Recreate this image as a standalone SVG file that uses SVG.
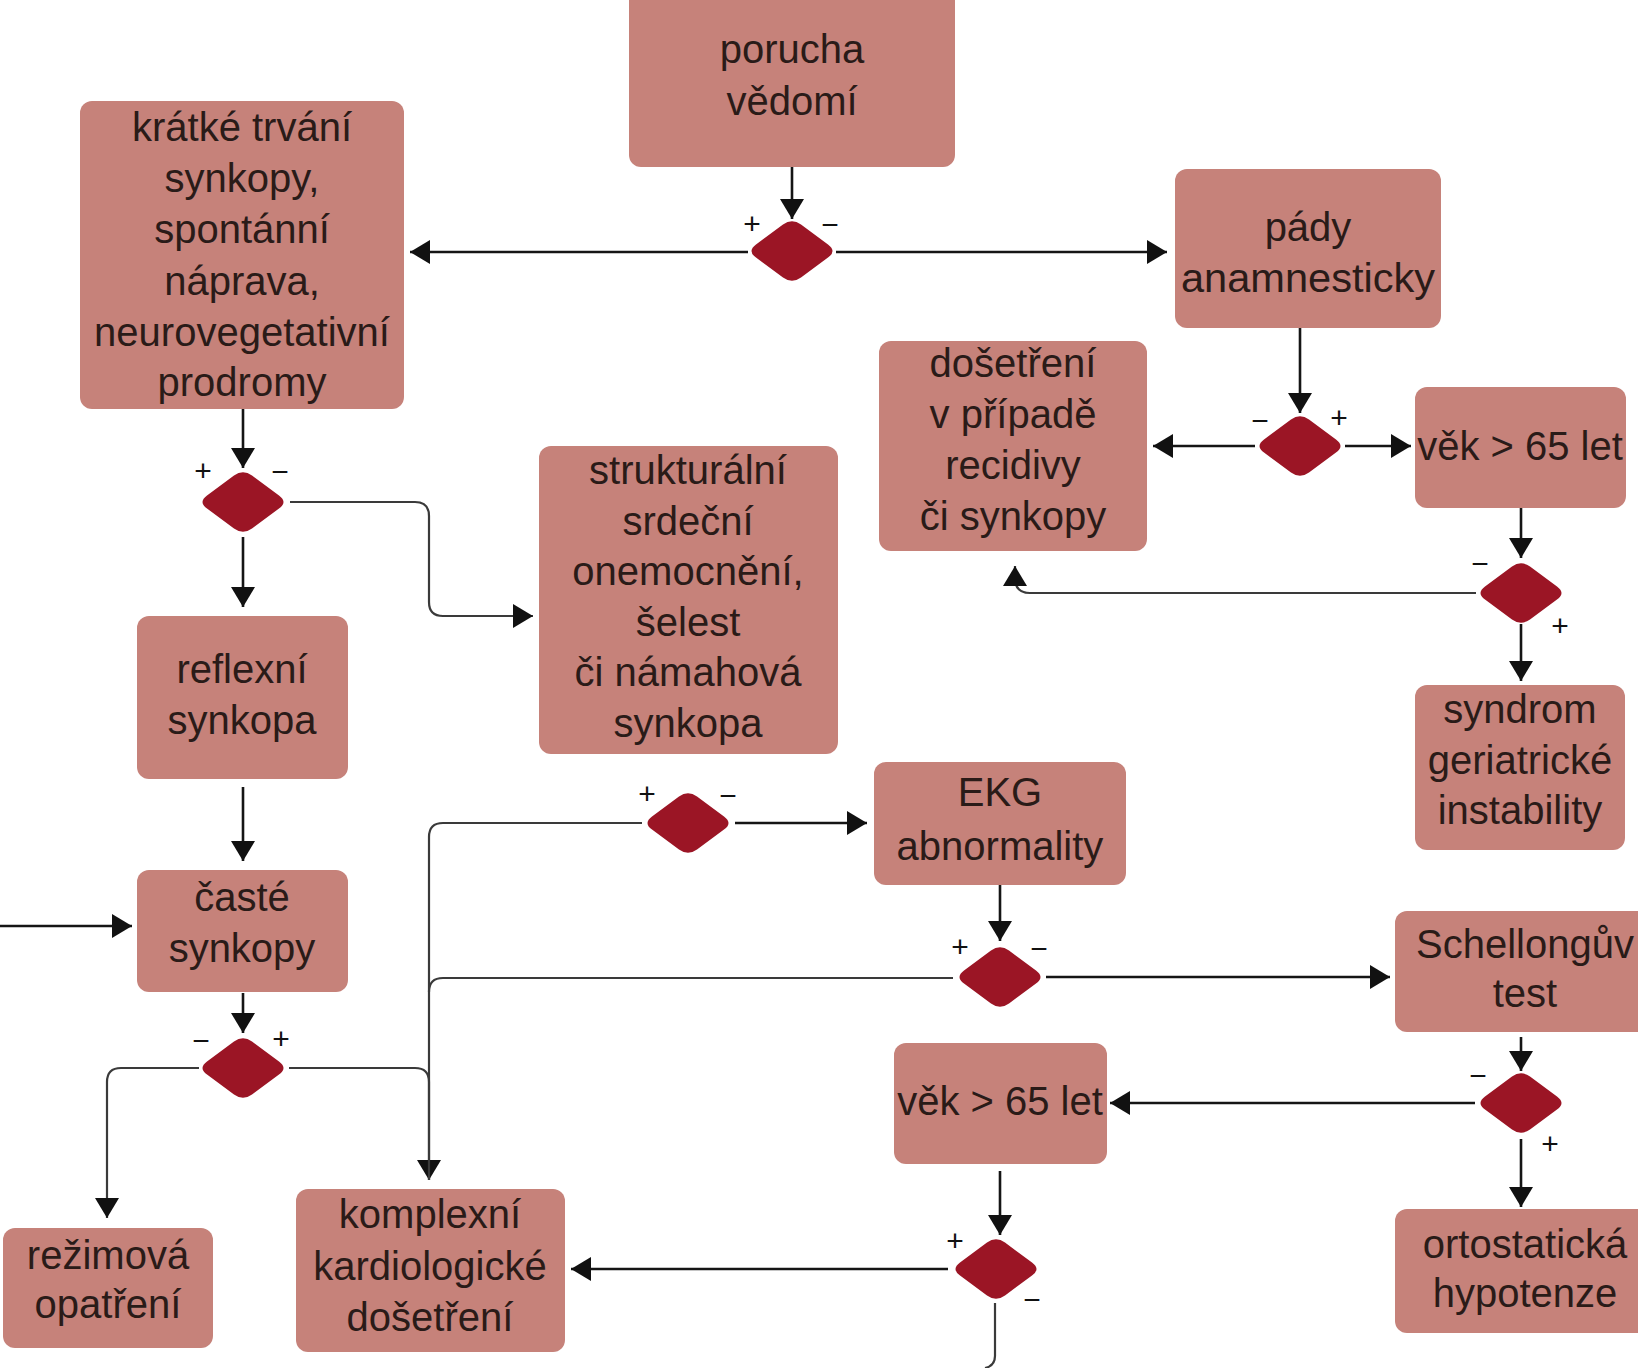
<svg xmlns="http://www.w3.org/2000/svg" width="1638" height="1368" viewBox="0 0 1638 1368">
<defs>
<style>
.box{fill:#c6827a;}
.t{font-family:"Liberation Sans",Arial,sans-serif;font-size:40px;fill:#2a1b18;text-anchor:middle;}
.sg{font-family:"Liberation Sans",Arial,sans-serif;font-size:30px;fill:#111;text-anchor:middle;}
.dia{fill:#9b1525;}
.ln{fill:none;stroke:#151515;stroke-width:2.6;}
.el{fill:none;stroke:#3a3a3a;stroke-width:2.2;}
</style>
<marker id="ah" markerUnits="userSpaceOnUse" markerWidth="20" markerHeight="24" refX="20" refY="12" orient="auto">
<path d="M0,0 L20,12 L0,24 Z" fill="#111"/>
</marker>
<path id="dm" d="M -9,-26.4 Q 0,-33 9,-26.4 L 36,-6.6 Q 45,0 36,6.6 L 9,26.4 Q 0,33 -9,26.4 L -36,6.6 Q -45,0 -36,-6.6 Z"/>
</defs>
<rect width="1638" height="1368" fill="#ffffff"/>

<g id="connectors">
<path class="ln" d="M 792 167 V 219" marker-end="url(#ah)"/>
<path class="ln" d="M 748 252 H 410" marker-end="url(#ah)"/>
<path class="ln" d="M 836 252 H 1167" marker-end="url(#ah)"/>
<path class="ln" d="M 243 409 V 468" marker-end="url(#ah)"/>
<path class="ln" d="M 243 537 V 607" marker-end="url(#ah)"/>
<path class="el" d="M 290 502 H 415 Q 429 502 429 516 V 602 Q 429 616 443 616 H 533" marker-end="url(#ah)"/>
<path class="ln" d="M 1300 328 V 413" marker-end="url(#ah)"/>
<path class="ln" d="M 1255 446 H 1153" marker-end="url(#ah)"/>
<path class="ln" d="M 1345 446 H 1411" marker-end="url(#ah)"/>
<path class="ln" d="M 1521 508 V 558" marker-end="url(#ah)"/>
<path class="el" d="M 1476 593 H 1030 Q 1015 593 1015 578 V 566" marker-end="url(#ah)"/>
<path class="ln" d="M 1521 624 V 681" marker-end="url(#ah)"/>
<path class="ln" d="M 243 787 V 861" marker-end="url(#ah)"/>
<path class="ln" d="M 0 926 H 132" marker-end="url(#ah)"/>
<path class="ln" d="M 243 993 V 1033" marker-end="url(#ah)"/>
<path class="el" d="M 199 1068 H 121 Q 107 1068 107 1082 V 1218" marker-end="url(#ah)"/>
<path class="el" d="M 289 1068 H 415 Q 429 1068 429 1082 V 1180" marker-end="url(#ah)"/>
<path class="el" d="M 642 823 H 443 Q 429 823 429 837 V 1180"/>
<path class="el" d="M 953 978 H 443 Q 429 978 429 992"/>
<path class="ln" d="M 735 823 H 867" marker-end="url(#ah)"/>
<path class="ln" d="M 1000 885 V 941" marker-end="url(#ah)"/>
<path class="ln" d="M 1046 977 H 1390" marker-end="url(#ah)"/>
<path class="ln" d="M 1521 1037 V 1071" marker-end="url(#ah)"/>
<path class="ln" d="M 1475 1103 H 1110" marker-end="url(#ah)"/>
<path class="ln" d="M 1521 1139 V 1207" marker-end="url(#ah)"/>
<path class="ln" d="M 1000 1171 V 1235" marker-end="url(#ah)"/>
<path class="ln" d="M 948 1269 H 571" marker-end="url(#ah)"/>
<path class="el" d="M 995 1303 V 1356 Q 995 1366 985 1368"/>
</g>

<g id="node-porucha">
<rect class="box" x="629" y="-12" width="326" height="179" rx="12"/>
<text class="t" x="792" y="63">porucha</text>
<text class="t" x="792" y="115">vědomí</text>
</g>
<g id="node-kratke">
<rect class="box" x="80" y="101" width="324" height="308" rx="12"/>
<text class="t" x="242" y="141">krátké trvání</text>
<text class="t" x="242" y="192">synkopy,</text>
<text class="t" x="242" y="243">spontánní</text>
<text class="t" x="242" y="295">náprava,</text>
<text class="t" x="242" y="346">neurovegetativní</text>
<text class="t" x="242" y="396">prodromy</text>
</g>
<g id="node-pady">
<rect class="box" x="1175" y="169" width="266" height="159" rx="12"/>
<text class="t" x="1308" y="241">pády</text>
<text class="t" x="1308" y="292" textLength="254" lengthAdjust="spacingAndGlyphs">anamnesticky</text>
</g>
<g id="node-dosetreni-recidivy">
<rect class="box" x="879" y="341" width="268" height="210" rx="12"/>
<text class="t" x="1013" y="377">došetření</text>
<text class="t" x="1013" y="428">v případě</text>
<text class="t" x="1013" y="479">recidivy</text>
<text class="t" x="1013" y="530">či synkopy</text>
</g>
<g id="node-vek-top">
<rect class="box" x="1415" y="387" width="211" height="121" rx="12"/>
<text class="t" x="1520" y="460">věk &gt; 65 let</text>
</g>
<g id="node-strukturalni">
<rect class="box" x="539" y="446" width="299" height="308" rx="12"/>
<text class="t" x="688" y="484">strukturální</text>
<text class="t" x="688" y="535">srdeční</text>
<text class="t" x="688" y="585">onemocnění,</text>
<text class="t" x="688" y="636">šelest</text>
<text class="t" x="688" y="686">či námahová</text>
<text class="t" x="688" y="737">synkopa</text>
</g>
<g id="node-reflexni">
<rect class="box" x="137" y="616" width="211" height="163" rx="12"/>
<text class="t" x="242" y="683">reflexní</text>
<text class="t" x="242" y="734">synkopa</text>
</g>
<g id="node-syndrom">
<rect class="box" x="1415" y="685" width="210" height="165" rx="12"/>
<text class="t" x="1520" y="723">syndrom</text>
<text class="t" x="1520" y="774">geriatrické</text>
<text class="t" x="1520" y="824">instability</text>
</g>
<g id="node-ekg">
<rect class="box" x="874" y="762" width="252" height="123" rx="12"/>
<text class="t" x="1000" y="806">EKG</text>
<text class="t" x="1000" y="860">abnormality</text>
</g>
<g id="node-caste">
<rect class="box" x="137" y="870" width="211" height="122" rx="12"/>
<text class="t" x="242" y="911">časté</text>
<text class="t" x="242" y="962">synkopy</text>
</g>
<g id="node-schellong">
<rect class="box" x="1395" y="911" width="260" height="121" rx="12"/>
<text class="t" x="1525" y="958">Schellongův</text>
<text class="t" x="1525" y="1007">test</text>
</g>
<g id="node-vek-bottom">
<rect class="box" x="894" y="1043" width="213" height="121" rx="12"/>
<text class="t" x="1000" y="1115">věk &gt; 65 let</text>
</g>
<g id="node-ortostaticka">
<rect class="box" x="1395" y="1209" width="260" height="124" rx="12"/>
<text class="t" x="1525" y="1258">ortostatická</text>
<text class="t" x="1525" y="1307">hypotenze</text>
</g>
<g id="node-rezimova">
<rect class="box" x="3" y="1228" width="210" height="120" rx="12"/>
<text class="t" x="108" y="1269">režimová</text>
<text class="t" x="108" y="1318">opatření</text>
</g>
<g id="node-komplexni">
<rect class="box" x="296" y="1189" width="269" height="163" rx="12"/>
<text class="t" x="430" y="1228">komplexní</text>
<text class="t" x="430" y="1280">kardiologické</text>
<text class="t" x="430" y="1331">došetření</text>
</g>

<g id="decision-1"><use href="#dm" class="dia" x="792" y="251"/><text class="sg" x="752" y="234">+</text><text class="sg" x="830" y="235">−</text></g>
<g id="decision-2"><use href="#dm" class="dia" x="243" y="502"/><text class="sg" x="203" y="481">+</text><text class="sg" x="280" y="482">−</text></g>
<g id="decision-3"><use href="#dm" class="dia" x="1300" y="446"/><text class="sg" x="1260" y="431">−</text><text class="sg" x="1339" y="428">+</text></g>
<g id="decision-4"><use href="#dm" class="dia" x="1521" y="593"/><text class="sg" x="1480" y="574">−</text><text class="sg" x="1560" y="636">+</text></g>
<g id="decision-5"><use href="#dm" class="dia" x="688" y="823"/><text class="sg" x="647" y="804">+</text><text class="sg" x="728" y="806">−</text></g>
<g id="decision-6"><use href="#dm" class="dia" x="1000" y="977"/><text class="sg" x="960" y="957">+</text><text class="sg" x="1039" y="959">−</text></g>
<g id="decision-7"><use href="#dm" class="dia" x="243" y="1068"/><text class="sg" x="201" y="1051">−</text><text class="sg" x="281" y="1049">+</text></g>
<g id="decision-8"><use href="#dm" class="dia" x="1521" y="1103"/><text class="sg" x="1478" y="1086">−</text><text class="sg" x="1550" y="1154">+</text></g>
<g id="decision-9"><use href="#dm" class="dia" x="996" y="1269"/><text class="sg" x="955" y="1251">+</text><text class="sg" x="1032" y="1310">−</text></g>
</svg>
